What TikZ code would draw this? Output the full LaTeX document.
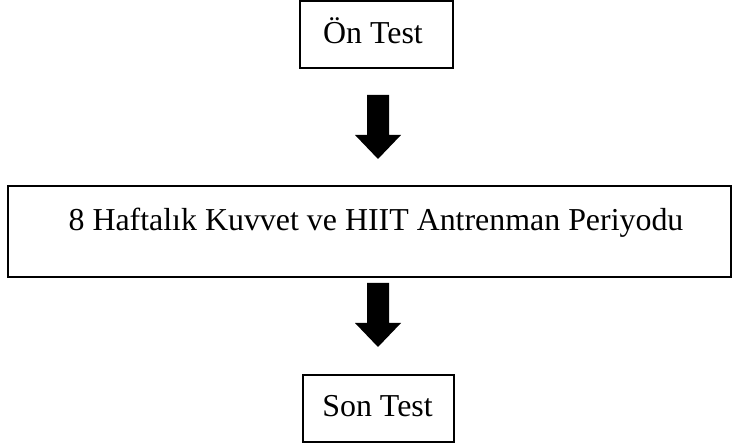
\documentclass[tikz,border=0pt]{standalone}
\usepackage{fontspec}
\setmainfont{Liberation Serif}
\begin{document}
\begin{tikzpicture}[x=1pt,y=1pt,
  box/.style={draw=black, line width=1.5pt, inner sep=0pt, fill=white},
  lbl/.style={anchor=base, inner sep=0pt, font=\fontsize{31.9}{38}\selectfont},
  blockarrow/.pic={\fill[black] (-11,0) -- (11,0) -- (11,-40) -- (23,-40) -- (0,-64) -- (-23,-40) -- (-11,-40) -- cycle;}]
\useasboundingbox (0,0) rectangle (733,446);
% boxes
\node[box, minimum width=153pt, minimum height=67pt] (on) at (376.5,411.5) {};
\node[box, minimum width=723pt, minimum height=91pt] (mid) at (369.5,214.5) {};
\node[box, minimum width=151pt, minimum height=67pt] (son) at (378.5,37.5) {};
% texts
\node[lbl] (ontxt) at (373,402) {Ön Test};
\node[lbl] (midtxt) at (376,215) {8 Haftalık Kuvvet ve HIIT Antrenman Periyodu};
\node[lbl] (sontxt) at (377.5,29) {Son Test};
% block arrows
\coordinate (a1) at (378,351);
\coordinate (a2) at (378,163);
\pic at (a1) {blockarrow};
\pic at (a2) {blockarrow};
\end{tikzpicture}
\end{document}
